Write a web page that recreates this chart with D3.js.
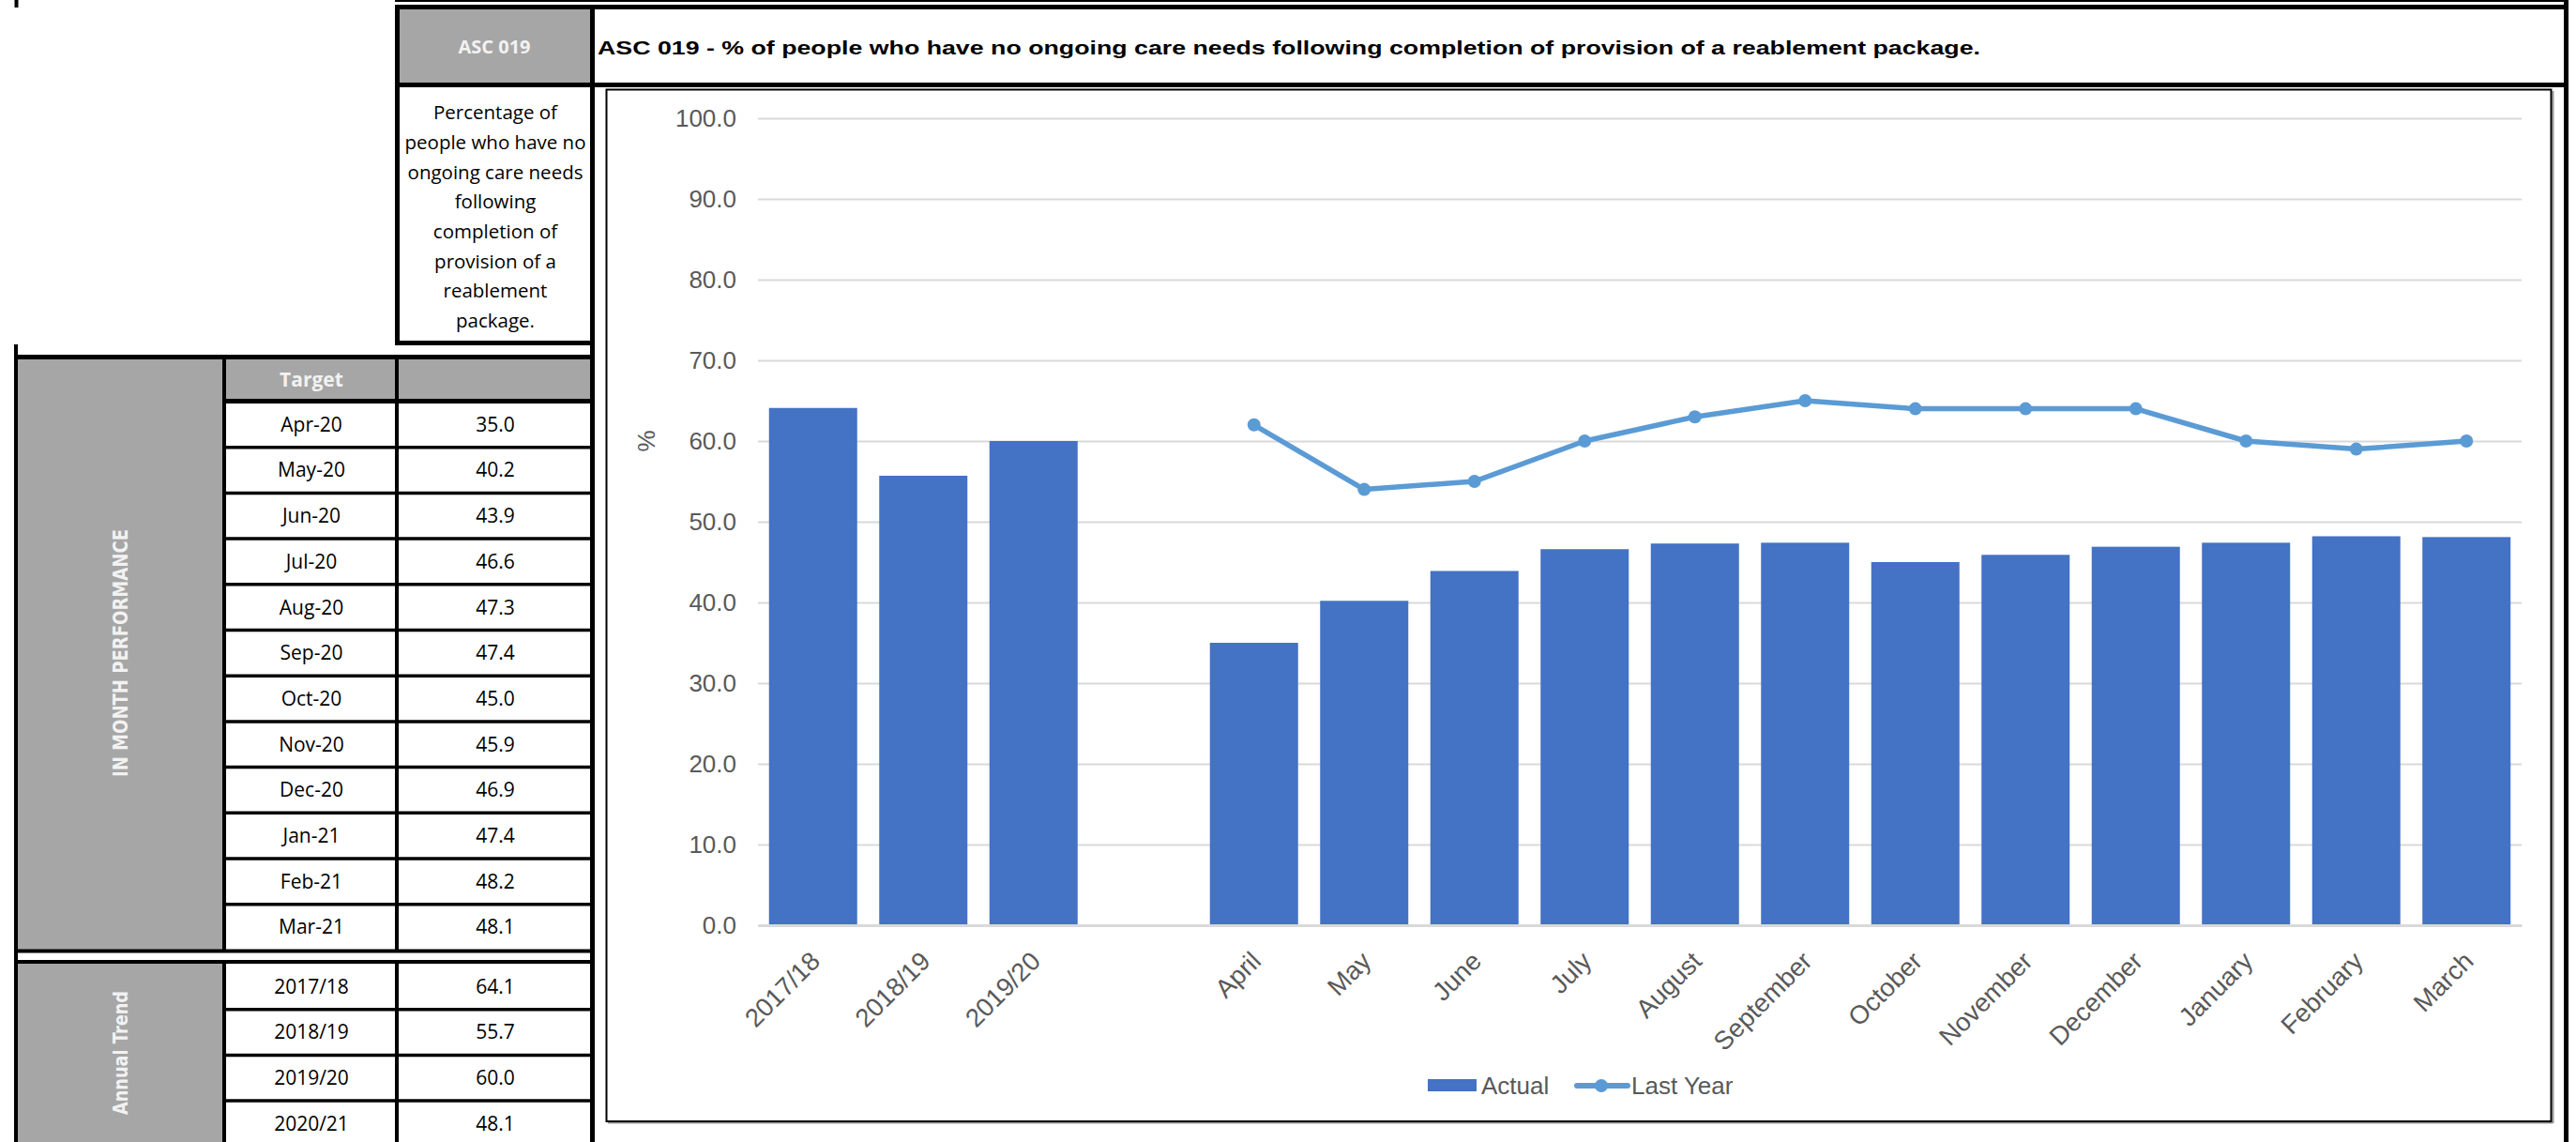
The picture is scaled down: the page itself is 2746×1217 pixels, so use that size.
<!DOCTYPE html>
<html><head><meta charset="utf-8">
<script src="https://cdn.jsdelivr.net/npm/d3@7"></script>
<style>html,body{margin:0;padding:0;background:#fff;}svg{display:block;}</style>
</head><body>
<svg id="c" width="2746" height="1217"></svg>
<script>
// ---------- data ----------
const categories = ["2017/18","2018/19","2019/20"," ","April","May","June","July","August","September","October","November","December","January","February","March"];
const actualValues = [64.1,55.7,60.0,null,35.0,40.2,43.9,46.6,47.3,47.4,45.0,45.9,46.9,47.4,48.2,48.1];
const lastYearValues = [null,null,null,null,62,54,55,60,63,65,64,64,64,60,59,60];
const yTicks = [0,10,20,30,40,50,60,70,80,90,100];
const monthLabels = ["Apr-20","May-20","Jun-20","Jul-20","Aug-20","Sep-20","Oct-20","Nov-20","Dec-20","Jan-21","Feb-21","Mar-21"];
const monthTargets = [35.0,40.2,43.9,46.6,47.3,47.4,45.0,45.9,46.9,47.4,48.2,48.1];
const annualLabels = ["2017/18","2018/19","2019/20","2020/21"];
const annualValues = [64.1,55.7,60.0,48.1];
const descLines = ["Percentage of","people who have no","ongoing care needs","following","completion of","provision of a","reablement","package."];
const titleText = "ASC 019 - % of people who have no ongoing care needs following completion of provision of a reablement package.";
const codeText = "ASC 019";
const seriesNames = ["Actual","Last Year"];

// ---------- drawing ----------
const svg = d3.select("#c");
const GRAY = "#a6a6a6", BAR = "#4472c4", LINE = "#5b9bd5", TXT = "#595959";
const cellFont = "'Open Sans','Noto Sans',sans-serif";
const chartFont = "'Liberation Sans',Arial,sans-serif";

// gray fills
svg.append("rect").attr("x",424).attr("y",8).attr("width",207).attr("height",82).attr("fill",GRAY);
svg.append("rect").attr("x",19).attr("y",383).attr("width",220).attr("height",630).attr("fill",GRAY);
svg.append("rect").attr("x",239).attr("y",383).attr("width",392).attr("height",44).attr("fill",GRAY);
svg.append("rect").attr("x",19).attr("y",1027).attr("width",220).attr("height",190).attr("fill",GRAY);

function ln(x1,y1,x2,y2,w,c){svg.append("line").attr("x1",x1).attr("y1",y1).attr("x2",x2).attr("y2",y2).attr("stroke",c||"#000").attr("stroke-width",w);}

// borders
ln(17.5,0,17.5,8,4);
ln(421,1,2738,1,2);
ln(421,7.5,2738,7.5,5);
ln(421,90.5,2738,90.5,5);
ln(423.5,5,423.5,368,5);
ln(631.5,5,631.5,1217,5);
ln(2735.5,0,2735.5,1217,5);
ln(421,365.5,634,365.5,5);
ln(17,367,17,1217,4);
ln(15,380.5,634,380.5,5);
ln(239,380,239,1015,4);
ln(423,380,423,1015,4);
ln(239,1025,239,1217,4);
ln(423,1025,423,1217,4);
ln(239,427.5,634,427.5,5);
const rowTop = 428, rowH = 48.7;
monthLabels.forEach((m,i)=>{ if(i>0) ln(239,rowTop+i*rowH,631,rowTop+i*rowH,3.5); });
ln(19,1013.5,631,1013.5,4);
ln(15,1025,634,1025,4);
const aTop = 1027;
annualLabels.forEach((m,i)=>{ if(i>0) ln(239,aTop+i*rowH,631,aTop+i*rowH,3.5); });

// header texts
svg.append("text").attr("x",527).attr("y",50).attr("dy","0.35em").attr("text-anchor","middle")
  .attr("font-family",cellFont).attr("font-weight","bold").attr("font-size",20).attr("fill","#f2f2f2").text(codeText);
svg.append("text").attr("x",637).attr("y",50).attr("dy","0.36em")
  .attr("font-family",chartFont).attr("font-weight","bold").attr("font-size",21).attr("fill","#000")
  .attr("textLength",1474).attr("lengthAdjust","spacingAndGlyphs").text(titleText);

svg.append("g").selectAll("text").data(descLines).join("text")
  .attr("x",528).attr("y",(d,i)=>120+i*31.7).attr("dy","0.35em").attr("text-anchor","middle")
  .attr("font-family",cellFont).attr("font-size",20.5).attr("fill","#000").text(d=>d);

svg.append("text").attr("x",332).attr("y",405).attr("dy","0.35em").attr("text-anchor","middle")
  .attr("font-family",cellFont).attr("font-weight","bold").attr("font-size",21).attr("fill","#f2f2f2").text("Target");

const fmt = d3.format(".1f");
const mg = svg.append("g").attr("font-family",cellFont).attr("font-size",21).attr("fill","#000").attr("text-anchor","middle");
mg.selectAll("text.l").data(monthLabels).join("text").attr("class","l")
  .attr("x",332).attr("y",(d,i)=>rowTop+i*rowH+rowH/2).attr("dy","0.35em").text(d=>d);
mg.selectAll("text.v").data(monthTargets).join("text").attr("class","v")
  .attr("x",528).attr("y",(d,i)=>rowTop+i*rowH+rowH/2).attr("dy","0.35em").text(d=>fmt(d));
mg.selectAll("text.al").data(annualLabels).join("text").attr("class","al")
  .attr("x",332).attr("y",(d,i)=>aTop+i*rowH+rowH/2).attr("dy","0.35em").text(d=>d);
mg.selectAll("text.av").data(annualValues).join("text").attr("class","av")
  .attr("x",528).attr("y",(d,i)=>aTop+i*rowH+rowH/2).attr("dy","0.35em").text(d=>fmt(d));

svg.append("text").attr("transform","translate(129,696) rotate(-90)").attr("dy","0.35em").attr("text-anchor","middle")
  .attr("font-family","'DejaVu Sans',Verdana,sans-serif").attr("font-weight","bold").attr("font-size",21)
  .attr("fill","#f2f2f2").attr("textLength",264).attr("lengthAdjust","spacingAndGlyphs").text("IN MONTH PERFORMANCE");
svg.append("text").attr("transform","translate(129,1122) rotate(-90)").attr("dy","0.35em").attr("text-anchor","middle")
  .attr("font-family","'DejaVu Sans',Verdana,sans-serif").attr("font-weight","bold").attr("font-size",21)
  .attr("fill","#f2f2f2").attr("textLength",132).attr("lengthAdjust","spacingAndGlyphs").text("Annual Trend");

// chart box
ln(648,1196.5,2721,1196.5,2,"#9a9a9a");
ln(2721.5,97,2721.5,1197,2,"#9a9a9a");
svg.append("rect").attr("x",646.5).attr("y",95.5).attr("width",2073).attr("height",1099.5)
  .attr("fill","#fff").attr("stroke","#000").attr("stroke-width",2);

// scales
const x = d3.scaleBand().domain(categories).range([808,2688]).paddingInner(0.2).paddingOuter(0.1);
const y = d3.scaleLinear().domain([0,100]).range([986,126]);

// y axis with gridlines
const ya = svg.append("g").attr("transform","translate(808,0)")
  .call(d3.axisLeft(y).tickValues(yTicks).tickFormat(fmt).tickSize(-1880).tickPadding(23));
ya.select(".domain").remove();
ya.selectAll(".tick line").attr("stroke","#d9d9d9").attr("stroke-width",2);
ya.selectAll(".tick text").attr("font-family",chartFont).attr("font-size",26).attr("fill",TXT);

svg.append("text").attr("transform","translate(689,470) rotate(-90)").attr("dy","0.35em").attr("text-anchor","middle")
  .attr("font-family",chartFont).attr("font-size",26).attr("fill",TXT).text("%");

// bars
svg.append("g").selectAll("rect").data(categories.map((c,i)=>({c,v:actualValues[i]})).filter(d=>d.v!=null)).join("rect")
  .attr("x",d=>x(d.c)).attr("width",x.bandwidth()).attr("y",d=>y(d.v)).attr("height",d=>y(0)-y(d.v)).attr("fill",BAR);

// x axis
const xa = svg.append("g").attr("transform","translate(0,986)").call(d3.axisBottom(x).tickSize(0).tickPadding(0));
xa.select(".domain").attr("stroke","#d9d9d9").attr("stroke-width",3);
xa.selectAll(".tick text").attr("font-family",chartFont).attr("font-size",27.5).attr("fill",TXT)
  .attr("text-anchor","end").attr("dy",0).attr("y",0)
  .attr("transform","translate(9,40) rotate(-45)");

// line
const lyData = categories.map((c,i)=>({c,v:lastYearValues[i]}));
const line = d3.line().defined(d=>d.v!=null).x(d=>x(d.c)+x.bandwidth()/2).y(d=>y(d.v));
svg.append("path").datum(lyData).attr("d",line).attr("fill","none").attr("stroke",LINE).attr("stroke-width",5.5).attr("stroke-linejoin","round");
svg.append("g").selectAll("circle").data(lyData.filter(d=>d.v!=null)).join("circle")
  .attr("cx",d=>x(d.c)+x.bandwidth()/2).attr("cy",d=>y(d.v)).attr("r",7).attr("fill",LINE);

// legend
const lg = svg.append("g").attr("font-family",chartFont).attr("font-size",26).attr("fill",TXT);
lg.append("rect").attr("x",1522).attr("y",1150).attr("width",52).attr("height",13).attr("fill",BAR);
lg.append("text").attr("x",1579).attr("y",1157).attr("dy","0.35em").text(seriesNames[0]);
lg.append("line").attr("x1",1681).attr("x2",1735).attr("y1",1157).attr("y2",1157).attr("stroke",LINE).attr("stroke-width",6).attr("stroke-linecap","round");
lg.append("circle").attr("cx",1707).attr("cy",1157).attr("r",7).attr("fill",LINE);
lg.append("text").attr("x",1739).attr("y",1157).attr("dy","0.35em").text(seriesNames[1]);
</script>
</body></html>
